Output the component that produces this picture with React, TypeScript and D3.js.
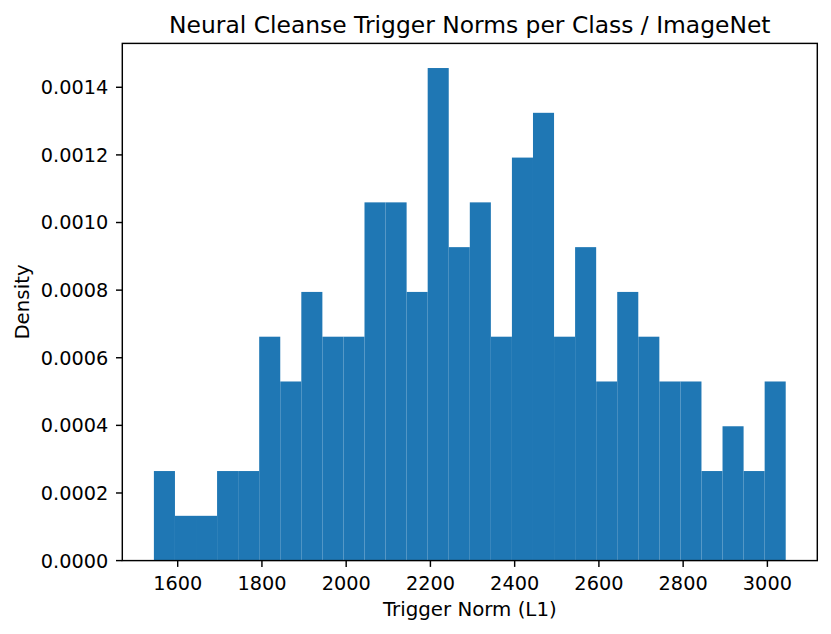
import React from "react";
import * as d3 from "d3";

const binStart = 1543.5;
const binWidth = 50;
const counts = [2, 1, 1, 2, 2, 5, 4, 6, 5, 5, 8, 8, 6, 11, 7, 8, 5, 9, 10, 5, 7, 4, 6, 5, 4, 4, 2, 3, 2, 4];
const xTicks = [1600, 1800, 2000, 2200, 2400, 2600, 2800, 3000];
const yTicks = [0, 0.0002, 0.0004, 0.0006, 0.0008, 0.001, 0.0012, 0.0014];

const W = 831;
const H = 634;
const L = 122.3;
const R = 817.3;
const T = 43.4;
const B = 560.6;

export default function App() {
  const total = d3.sum(counts);
  const bins = counts.map((c, i) => ({
    x0: binStart + i * binWidth,
    x1: binStart + (i + 1) * binWidth,
    d: c / (total * binWidth),
  }));
  const dataMin = bins[0].x0;
  const dataMax = bins[bins.length - 1].x1;
  const span = dataMax - dataMin;
  const x = d3.scaleLinear().domain([dataMin - 0.05 * span, dataMax + 0.05 * span]).range([L, R]);
  const maxD = d3.max(bins, (b) => b.d) as number;
  const y = d3.scaleLinear().domain([0, maxD * 1.05]).range([B, T]);
  const font = "'DejaVu Sans', sans-serif";
  const tickLen = 6.3;
  const sw = 1.44;
  const tickFont = 19.3;
  const labelFont = 19.8;
  const titleFont = 23.4;

  return (
    <svg width={W} height={H} style={{ position: "absolute", left: 0, top: 0, background: "#fff" }} fontFamily={font}>
      <rect x={0} y={0} width={W} height={H} fill="#fff" />
      <g>
        {bins.map((b, i) => (
          <rect key={i} x={x(b.x0)} y={y(b.d)} width={x(b.x1) - x(b.x0)} height={B - y(b.d)} fill="#1f77b4" />
        ))}
      </g>
      <g>
        {xTicks.map((t) => (
          <g key={t}>
            <line x1={x(t)} x2={x(t)} y1={B} y2={B + tickLen} stroke="#000" strokeWidth={sw} />
            <text x={x(t)} y={590} textAnchor="middle" fontSize={tickFont} fill="#000">
              {t}
            </text>
          </g>
        ))}
      </g>
      <g>
        {yTicks.map((t) => (
          <g key={t}>
            <line x1={L - tickLen} x2={L} y1={y(t)} y2={y(t)} stroke="#000" strokeWidth={sw} />
            <text x={108.3} y={y(t)} dy="0.36em" textAnchor="end" fontSize={tickFont} fill="#000">
              {d3.format(".4f")(t)}
            </text>
          </g>
        ))}
      </g>
      <rect x={L} y={T} width={R - L} height={B - T} fill="none" stroke="#000" strokeWidth={sw} strokeLinejoin="miter" />
      <text x={(L + R) / 2} y={32.8} textAnchor="middle" fontSize={titleFont} fill="#000">
        Neural Cleanse Trigger Norms per Class / ImageNet
      </text>
      <text x={(L + R) / 2} y={616} textAnchor="middle" fontSize={labelFont} fill="#000">
        Trigger Norm (L1)
      </text>
      <text transform={`translate(28.5, ${(T + B) / 2}) rotate(-90)`} textAnchor="middle" fontSize={labelFont} fill="#000">
        Density
      </text>
    </svg>
  );
}
